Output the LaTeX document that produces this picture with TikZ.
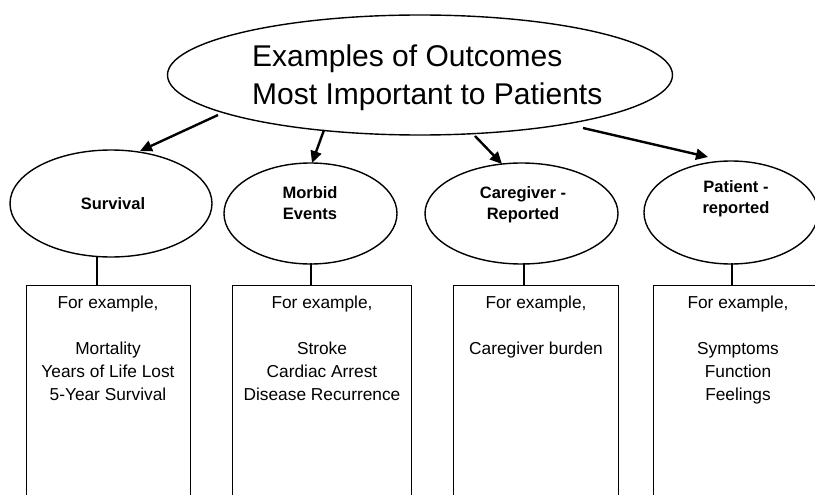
\documentclass[tikz,border=0pt]{standalone}
\usepackage{fontspec}
\setmainfont{Liberation Sans}
\usetikzlibrary{shapes.geometric,arrows.meta}
\begin{document}
\begin{tikzpicture}[x=1pt,y=-1pt,
  oval/.style={draw,ellipse,line width=1.4pt,inner sep=0pt},
  catbox/.style={draw,rectangle,line width=1.3pt,inner sep=0pt,anchor=north west},
  cattext/.style={font=\bfseries\fontsize{16.5}{21}\selectfont,align=center,inner sep=0pt,anchor=base},
  boxtext/.style={font=\fontsize{17.3}{23}\selectfont,align=center,inner sep=0pt,anchor=base},
  arr/.style={line width=2.4pt,-{Triangle[length=12pt,width=11pt]}},
  link/.style={line width=2pt}]
\useasboundingbox (0,0) rectangle (815,495);
\clip (0,0) rectangle (815,495);
\fill[white] (0,0) rectangle (815,495);
% main ellipse
\node[oval,minimum width=505pt,minimum height=120pt] (main) at (420,75) {};
\node[font=\fontsize{30}{39}\selectfont,align=left,inner sep=0pt,anchor=base west] (title) at (252,105)
  {Examples of Outcomes\\Most Important to Patients};
% category ellipses
\node[oval,minimum width=202pt,minimum height=107pt] (surv) at (111,203.5) {};
\node[oval,minimum width=173pt,minimum height=101pt] (morb) at (310.5,213.5) {};
\node[oval,minimum width=193pt,minimum height=101pt] (care) at (521.5,213.5) {};
\node[oval,minimum width=174pt,minimum height=103pt] (pat) at (731,212.5) {};
\node[cattext] (survt) at (113,209) {Survival};
\node[cattext] (morbt) at (310,219) {Morbid\\Events};
\node[cattext] (caret) at (523,219) {Caregiver -\\Reported};
\node[cattext] (patt) at (736,213) {Patient -\\reported};
% boxes
\node[catbox,minimum width=164pt,minimum height=240pt] (sbox) at (26,285) {};
\node[catbox,minimum width=179pt,minimum height=240pt] (mbox) at (232,285) {};
\node[catbox,minimum width=165pt,minimum height=240pt] (cbox) at (453,285) {};
\node[catbox,minimum width=180pt,minimum height=240pt] (pbox) at (653,285) {};
\node[boxtext] (sboxt) at (108,400) {For example,\\[23pt]Mortality\\Years of Life Lost\\5-Year Survival};
\node[boxtext] (mboxt) at (322,400) {For example,\\[23pt]Stroke\\Cardiac Arrest\\Disease Recurrence};
\node[boxtext] (cboxt) at (536,354) {For example,\\[23pt]Caregiver burden};
\node[boxtext] (pboxt) at (738,400) {For example,\\[23pt]Symptoms\\Function\\Feelings};
% connectors ellipse -> box
\coordinate (c1) at (97,256);
\coordinate (c2) at (311,263);
\coordinate (c3) at (524,263);
\coordinate (c4) at (732,263);
\draw[link] (c1) -- (c1 |- sbox.north);
\draw[link] (c2) -- (c2 |- mbox.north);
\draw[link] (c3) -- (c3 |- cbox.north);
\draw[link] (c4) -- (c4 |- pbox.north);
% arrows
\coordinate (a1) at (218,115);
\coordinate (a2) at (324,130);
\coordinate (a3) at (475,136);
\coordinate (a4) at (583,128);
\coordinate (t1) at (140,151);
\coordinate (t2) at (312,163);
\coordinate (t3) at (502,164);
\coordinate (t4) at (708,157);
\draw[arr] (a1) -- (t1);
\draw[arr] (a2) -- (t2);
\draw[arr] (a3) -- (t3);
\draw[arr] (a4) -- (t4);
\end{tikzpicture}
\end{document}
